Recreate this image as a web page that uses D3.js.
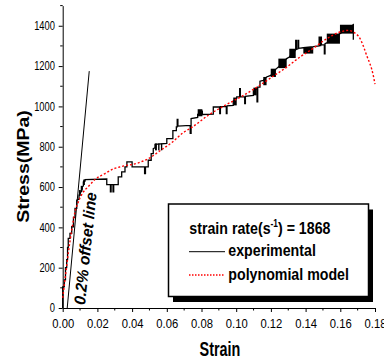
<!DOCTYPE html>
<html>
<head>
<meta charset="utf-8">
<script src="https://cdn.jsdelivr.net/npm/d3@7"></script>
<style>
  html, body { margin: 0; padding: 0; background: #fff; }
  svg { display: block; }
  text { font-family: "Liberation Sans", Arial, sans-serif; fill: #000; }
</style>
</head>
<body>
<svg id="chart" width="384" height="361"></svg>
<script>
// ---------- data ----------
const xTickValues = [0, 0.02, 0.04, 0.06, 0.08, 0.10, 0.12, 0.14, 0.16, 0.18];
const xTickLabels = ["0.00","0.02","0.04","0.06","0.08","0.10","0.12","0.14","0.16","0.18"];
const yTickValues = [0, 200, 400, 600, 800, 1000, 1200, 1400];
const yTickLabels = ["0","200","400","600","800","1000","1200","1400"];

// experimental stress-strain record [strain, stress MPa]
const experimental = [
[0,0],[0,105],[0.0009,105],[0.0009,140],[0.0016,140],[0.0016,200],[0.0023,200],[0.0023,240],
[0.0028,240],[0.0028,300],[0.0032,300],[0.0032,345],[0.0042,345],[0.0042,370],[0.0052,370],
[0.0052,403],[0.0062,403],[0.0062,450],[0.0071,450],[0.0071,494],[0.0081,494],[0.0081,535],
[0.0094,540],[0.0094,560],[0.0104,575],[0.0113,590],[0.0113,601],[0.0119,605],[0.0119,626],
[0.0129,630],[0.0129,637],[0.0254,640],[0.0254,612],[0.0275,612],[0.0275,576],[0.0279,576],
[0.0279,612],[0.0290,612],[0.0290,576],[0.0294,576],[0.0294,612],[0.0320,612],[0.0320,650],
[0.0340,650],[0.0340,675],[0.0359,675],[0.0359,700],[0.0370,700],[0.0370,725],[0.0400,725],
[0.0400,700],[0.0472,700],[0.0472,667],[0.0477,667],[0.0477,700],[0.0493,700],[0.0493,733],
[0.0510,733],[0.0510,766],[0.0522,766],[0.0522,790],[0.0532,795],[0.0532,812],[0.0600,816],
[0.0600,840],[0.0635,840],[0.0635,880],[0.0655,880],[0.0655,898],[0.0660,898],[0.0660,935],
[0.0664,935],[0.0664,902],[0.0735,906],[0.0735,866],[0.0740,866],[0.0740,940],[0.0778,945],
[0.0778,960],[0.0805,975],[0.0805,960],[0.0868,962],[0.0868,997],[0.0905,997],[0.0905,964],
[0.0909,964],[0.0909,999],[0.0943,999],[0.0943,964],[0.0947,964],[0.0947,1003],[0.0983,1005],
[0.0983,1025],[0.1003,1040],[0.1003,1047],[0.1020,1047],[0.1020,1088],[0.1024,1088],[0.1024,1047],
[0.1049,1048],[0.1049,1014],[0.1053,1014],[0.1053,1050],[0.1099,1055],[0.1099,1075],[0.1118,1090],
[0.1120,1090],[0.1120,1022],[0.1124,1022],[0.1124,1096],[0.1137,1096],[0.1137,1125],[0.1156,1129],
[0.1175,1146],[0.1199,1154],[0.1229,1185],[0.1243,1195],[0.1291,1237],[0.1306,1245],[0.1343,1280],
[0.1343,1327],[0.1347,1327],[0.1347,1283],[0.1356,1286],[0.1356,1327],[0.1360,1327],[0.1360,1288],
[0.1387,1291],[0.1444,1296],[0.1478,1300],[0.1478,1344],[0.1482,1344],[0.1482,1302],[0.1487,1302],
[0.1487,1344],[0.1491,1344],[0.1491,1305],[0.1508,1305],[0.1508,1261],[0.1512,1261],[0.1512,1311],
[0.1522,1315],[0.1598,1361],[0.1675,1405],[0.1675,1330]
];

// dense oscillation envelopes of the record [strain0, strain1, stressLow, stressHigh]
const oscillationBands = [
[0.0094,0.0104,556,585],[0.0104,0.0113,575,606],[0.0118,0.0128,610,637],
[0.0532,0.0543,782,816],[0.0550,0.0558,782,816],[0.0566,0.0574,782,816],
[0.0778,0.0805,951,986],[0.0983,0.1003,1005,1044],[0.1099,0.1118,1055,1093],
[0.1156,0.1175,1105,1146],[0.1199,0.1229,1146,1187],[0.1243,0.1291,1190,1237],
[0.1306,0.1343,1240,1286],[0.1387,0.1444,1262,1294],[0.1522,0.1598,1311,1361],
[0.1598,0.1675,1361,1405]
];

// polynomial model [strain, stress]
const polynomialModel = [
[0,50],[0.0013,139],[0.0032,271],[0.0052,386],[0.0071,477],[0.009,526],[0.011,563],[0.0148,603],
[0.0186,637],[0.0244,667],[0.0292,690],[0.034,702],[0.0436,720],[0.0503,745],[0.0561,780],
[0.0628,820],[0.0695,870],[0.0743,895],[0.0839,956],[0.0935,1005],[0.1032,1050],[0.1128,1100],
[0.1214,1150],[0.1291,1195],[0.1368,1245],[0.1444,1288],[0.1522,1336],[0.1598,1369],[0.1646,1377],
[0.1675,1369],[0.1714,1336],[0.1752,1253],[0.179,1154],[0.18,1110]
];

// 0.2% offset line
const offsetLine = [[0.0026,0],[0.0153,1175]];

const legendTitle = ["strain rate(s", "-1", ") = 1868"];
const legendLabels = ["experimental", "polynomial model"];

// ---------- layout ----------
const svg = d3.select("#chart");
const x = d3.scaleLinear().domain([0, 0.18]).range([62.7, 375]);
const y = d3.scaleLinear().domain([0, 1500]).range([308, 5.6]);

const font = '"Liberation Sans", Arial, sans-serif';

// axes
const xAxis = d3.axisBottom(x).tickValues(xTickValues)
  .tickFormat((d, i) => xTickLabels[i]).tickSize(4).tickSizeOuter(0).tickPadding(7.3);
const gx = svg.append("g").attr("transform", `translate(0,${y(0)})`).call(xAxis);
gx.selectAll("text").attr("font-size", 12.5).attr("font-family", font)
  .attr("transform", "scale(0.9,1)");

// x minor ticks
svg.append("g").selectAll("line")
  .data(d3.range(0.01, 0.18, 0.02))
  .join("line")
  .attr("x1", d => x(d)).attr("x2", d => x(d))
  .attr("y1", y(0)).attr("y2", y(0) + 2.5)
  .attr("stroke", "#000");

const yAxis = d3.axisLeft(y).tickValues(yTickValues)
  .tickFormat((d, i) => yTickLabels[i]).tickSize(4).tickSizeOuter(0).tickPadding(5.9);
const gy = svg.append("g").attr("transform", `translate(${x(0)},0)`).call(yAxis);
gy.selectAll("text").attr("font-size", 12).attr("font-family", font)
  .attr("transform", "scale(0.78,1)");

svg.append("g").selectAll("line")
  .data(d3.range(100, 1600, 200))
  .join("line")
  .attr("x1", x(0)).attr("x2", x(0) - 2.5)
  .attr("y1", d => y(d)).attr("y2", d => y(d))
  .attr("stroke", "#000");

svg.selectAll(".domain").attr("stroke", "#000");

// axis titles
svg.append("text")
  .attr("transform", `translate(220,356) scale(0.72,1)`)
  .attr("text-anchor", "middle").attr("font-size", 20).attr("font-weight", "bold")
  .text("Strain");

svg.append("text")
  .attr("transform", `translate(29.3,166.5) rotate(-90) scale(1,0.8)`)
  .attr("text-anchor", "middle").attr("font-size", 19.5).attr("font-weight", "bold")
  .text("Stress(MPa)");

// offset line
const line = d3.line().x(d => x(d[0])).y(d => y(d[1]));
svg.append("path").datum(offsetLine).attr("d", line)
  .attr("fill", "none").attr("stroke", "#000").attr("stroke-width", 1);

svg.append("text")
  .attr("transform", `translate(90.8,249) rotate(-84)`)
  .attr("text-anchor", "middle").attr("font-size", 16).attr("font-weight", "bold")
  .attr("font-style", "italic")
  .attr("textLength", 113).attr("lengthAdjust", "spacingAndGlyphs")
  .text("0.2% offset line");

// experimental
svg.append("g").selectAll("rect").data(oscillationBands).join("rect")
  .attr("x", d => x(d[0])).attr("width", d => x(d[1]) - x(d[0]))
  .attr("y", d => y(d[3])).attr("height", d => y(d[2]) - y(d[3]))
  .attr("fill", "#000");

svg.append("path").datum(experimental).attr("d", line)
  .attr("fill", "none").attr("stroke", "#000").attr("stroke-width", 1.3);

// polynomial model
const smooth = d3.line().x(d => x(d[0])).y(d => y(d[1])).curve(d3.curveMonotoneX);
svg.append("path").datum(polynomialModel).attr("d", smooth)
  .attr("fill", "none").attr("stroke", "#ff0000").attr("stroke-width", 1.4)
  .attr("stroke-dasharray", "2,2");

// legend
const lg = svg.append("g");
lg.append("rect").attr("x", 173).attr("y", 209.5).attr("width", 200).attr("height", 92.5)
  .attr("fill", "#000");
lg.append("rect").attr("x", 168.5).attr("y", 204).attr("width", 200).attr("height", 92.5)
  .attr("fill", "#fff").attr("stroke", "#000").attr("stroke-width", 1.5);

const t1 = lg.append("text").attr("transform", "translate(189.3,234.3) scale(0.835,1)")
  .attr("font-size", 17).attr("font-weight", "bold");
t1.append("tspan").text(legendTitle[0]);
t1.append("tspan").attr("font-size", 10).attr("dy", -7).text(legendTitle[1]);
t1.append("tspan").attr("dy", 7).text(legendTitle[2]);

lg.append("line").attr("x1", 189).attr("x2", 225).attr("y1", 251.7).attr("y2", 251.7)
  .attr("stroke", "#000").attr("stroke-width", 1);
lg.append("text").attr("transform", "translate(228.3,256) scale(0.835,1)")
  .attr("font-size", 17).attr("font-weight", "bold").text(legendLabels[0]);

lg.append("line").attr("x1", 189).attr("x2", 225).attr("y1", 275).attr("y2", 275)
  .attr("stroke", "#ff0000").attr("stroke-width", 1.3).attr("stroke-dasharray", "1.5,1.5");
lg.append("text").attr("transform", "translate(228.3,280) scale(0.835,1)")
  .attr("font-size", 17).attr("font-weight", "bold").text(legendLabels[1]);
</script>
</body>
</html>
